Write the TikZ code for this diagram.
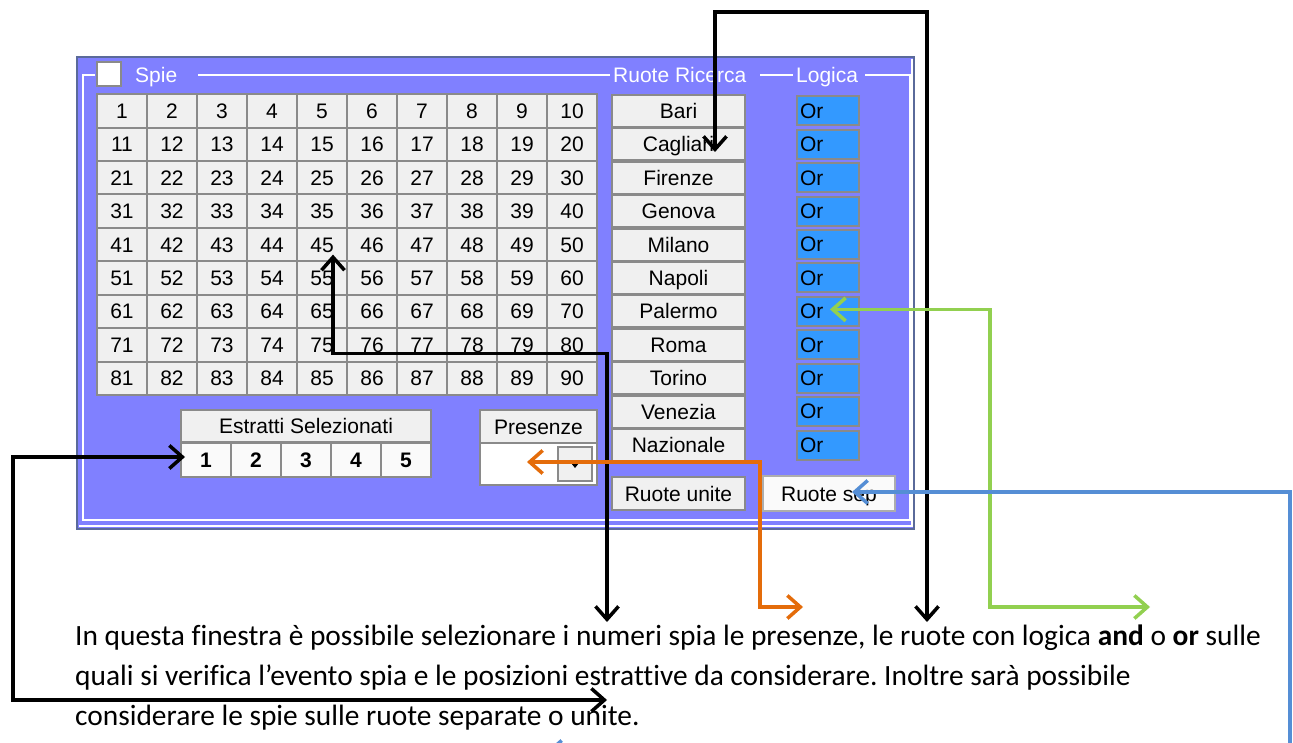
\documentclass[tikz,border=0pt]{standalone}
\usepackage{fontspec}
\setmainfont{Carlito}[Ligatures=NoCommon]
\newfontfamily\guifont{Liberation Sans}
\usetikzlibrary{calc}
\usetikzlibrary{positioning}
\usetikzlibrary{arrows.meta}
\definecolor{winblue}{HTML}{8080FF}
\definecolor{winedge}{HTML}{5A6A9A}
\definecolor{btnface}{HTML}{F0F0F0}
\definecolor{btnedge}{HTML}{8A8A8A}
\definecolor{orblue}{HTML}{3399FF}
\definecolor{callorange}{HTML}{E46C0A}
\definecolor{callgreen}{HTML}{92D050}
\definecolor{callblue}{HTML}{558ED5}
\tikzset{
    % Open chevron heads, as in the original callouts
    >={Straight Barb[length=13pt,width=23pt]},
%
    % Font of the dialog itself
    gui text/.style={font=\guifont\fontsize{21}{24}\selectfont},
%
    % A classic raised push button
    gui button/.style={gui text, draw=btnedge, line width=2pt,
        fill=btnface, inner sep=0, outer sep=0,
        text height=16pt, text depth=1pt},
    % One cell of the number grid
    number cell/.style={gui button, minimum width=50pt, minimum height=33.4pt},
    % Wheel buttons on the right
    wheel button/.style={gui button, minimum width=133pt, minimum height=32pt},
    % Blue logic fields
    logic box/.style={gui text, draw=btnedge, line width=2pt, fill=orblue,
        text width=56pt, inner xsep=3pt, minimum height=29pt, align=left},
    % Etched group frame
    group line/.style={white, line width=2pt},
    % Explanation text
    body text/.style={anchor=base west, inner sep=0,
        font=\fontsize{29.4}{35}\selectfont},
    % Callout connectors, heads at both ends
    callout/.style={line width=3.5pt, <->}}

\begin{document}
\frenchspacing
\begin{tikzpicture}[x=1pt, y=-1pt]
\useasboundingbox (0,0) rectangle (1293,743);
\clip (0,0) rectangle (1293,743);
\fill [white] (0,0) rectangle (1293,743);

% Dialog window and its group frame
\draw [fill=winblue, draw=winedge, line width=2pt] (77,57) rectangle (914,529);
\draw [white, line width=1.5pt] (79,526) -- (912,526) -- (912,59);
\draw [group line] (95,75) -| (83,520) -| (910,75) -- (865,75);
\draw [group line] (198,75) -- (610,75);
\draw [group line] (760,75) -- (793,75);

\node [draw=btnedge, fill=white, line width=1.5pt, minimum size=24pt]
    (spie box) at (109,74) {};
\node [gui text, white, anchor=base west, inner sep=0] (spie) at (135,83) {Spie};
\node [gui text, white, anchor=base west, inner sep=0] (ricerca) at (613,83)
    {Ruote Ricerca};
\node [gui text, white, anchor=base west, inner sep=0] (logica) at (796,83)
    {Logica};

% Number grid 1..90
\foreach \r in {0,...,8}
    \foreach \c in {0,...,9} {
        \pgfmathtruncatemacro{\n}{10*\r+\c+1}
        \node [number cell] (n\n) at (122+50*\c, 111+33.4*\r) {\n};
    }

% Wheels and their logic
\foreach \name [count=\i from 1] in {Bari,Cagliari,Firenze,Genova,Milano,
        Napoli,Palermo,Roma,Torino,Venezia,Nazionale} {
    \node [wheel button] (ruota\i) at (678.5, 111+33.4*\i-33.4) {\name};
    \node [logic box] (or\i) at (828, 111+33.4*\i-33.4) {Or};
}

% Selected positions and presences
\node [gui button, minimum width=250pt, minimum height=32pt]
    (estratti) at (306,426) {Estratti Selezionati};
\foreach \k in {1,...,5}
    \node [gui button, fill=white!96!gray, font=\guifont\bfseries\fontsize{21}{24}\selectfont,
        minimum width=50pt, minimum height=34pt]
        (e\k) at (156+50*\k, 460) {\k};

\node [gui button, minimum width=117pt, minimum height=33pt]
    (presenze) at (538.5,426.5) {Presenze};
\node [draw=btnedge, fill=white, line width=1.5pt, minimum width=117pt,
    minimum height=42pt, inner sep=0, outer sep=0] (combo) at (538.5,464) {};
\node [gui button, minimum width=34pt, minimum height=34pt] (drop) at (575,464) {};
\fill ($(drop)+(-4,-1)$) -- ($(drop)+(4,-1)$) -- ($(drop)+(0,4)$) -- cycle;

\node [gui button, minimum width=133pt, minimum height=33pt]
    (unite) at (678.5,493.5) {Ruote unite};
\node [gui button, fill=white!96!gray, draw=btnedge!70, minimum width=132pt,
    minimum height=35pt] (sep) at (829,493.5) {Ruote sep};

% Explanation below the dialog
\node [body text] (line1) at (75,645) {In questa finestra è possibile
    selezionare i numeri spia le presenze, le ruote con logica \textbf{and}
    o \textbf{or} sulle};
\node [body text] (line2) at (75,685) {quali si verifica l’evento spia e le
    posizioni estrattive da considerare. Inoltre sarà possibile};
\node [body text] (line3) at (75,725) {considerare le spie sulle ruote
    separate o unite.};

% Where the callouts land in the text
\coordinate (t numbers) at (607,622);
\coordinate (t wheels) at (927,622);
\coordinate (t positions) at (607,700);
\coordinate (t presences) at (803,607);
\coordinate (t logic) at (1150,607);
\coordinate (t separate) at (546,752);

% Callouts
\draw [callout] ($(n45)+(11,10)$) -- ++(0,99) -| (t numbers);
\draw [callout] ($(ruota2)+(36.5,7.6)$) -- ++(0,-140) -| (t wheels);
\draw [callout] ($(e1.west)+(4,-3)$) -- ++(-172,0) |- (t positions);
\draw [callout, callorange] ($(combo)+(-11.5,-2)$) -- ++(233,0) |- (t presences);
\draw [callout, callgreen] ($(or7)+(2,-2)$) -- ++(160,0) |- (t logic);
\draw [callout, callblue] ($(sep)+(23,-1.5)$) -- ++(438,0) |- (t separate);

\end{tikzpicture}
\end{document}
